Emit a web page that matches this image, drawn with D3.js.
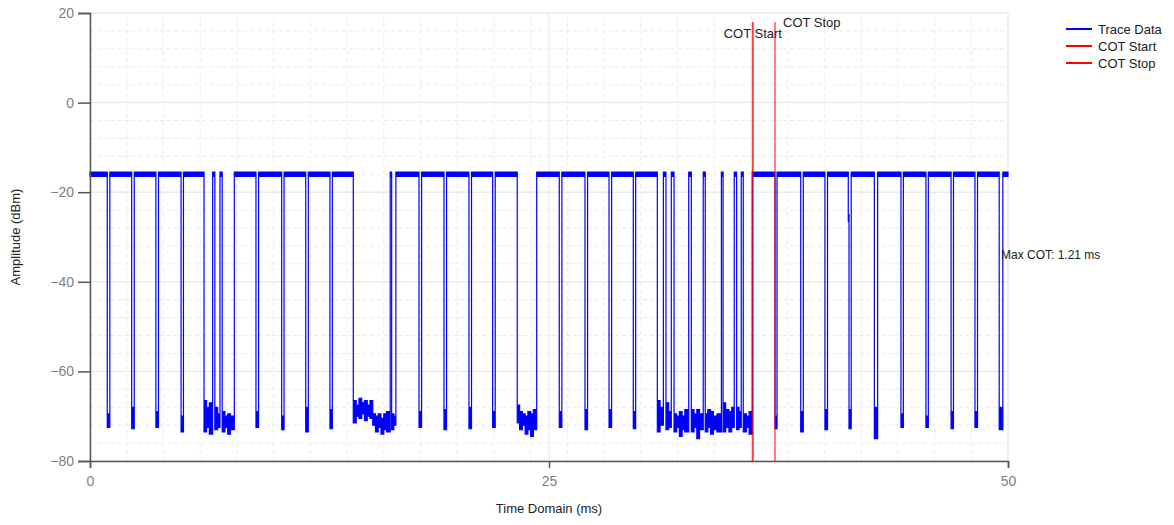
<!DOCTYPE html>
<html>
<head>
<meta charset="utf-8">
<script src="https://cdn.jsdelivr.net/npm/d3@7"></script>
<style>
  body { margin: 0; background: #fff; }
  text { font-family: "Liberation Sans", Arial, sans-serif; }
</style>
</head>
<body>
<div id="vis"></div>
<script>

// trace data, read off the picture as step segments
// each segment starts at segStart (ms) and runs until the next one
// segTop / segBottom are the noise envelope of the segment (dBm)
var segStart = [
  0.00, 0.94, 1.08, 2.27, 2.41, 3.59, 3.73, 4.96, 5.09,
  6.21, 6.35, 6.50, 6.68, 6.80, 6.95, 7.08, 7.20, 7.35, 7.50, 7.65, 7.86,
  9.04, 9.18, 10.44, 10.57, 11.75, 11.89, 13.07, 13.20,
  14.34, 14.50, 14.65, 14.80, 14.95, 15.10, 15.25, 15.40, 15.55, 15.70, 15.85, 16.00, 16.15, 16.35, 16.43, 16.55, 16.66,
  17.92, 18.06, 19.28, 19.42, 20.64, 20.78, 21.93, 22.07,
  23.27, 23.40, 23.55, 23.70, 23.85, 24.00, 24.15, 24.33,
  25.56, 25.70, 26.96, 27.10, 28.27, 28.41, 29.59, 29.72,
  30.90, 31.05, 31.23, 31.37, 31.52, 31.66, 31.81, 31.95, 32.10, 32.25, 32.40, 32.61,
  32.75, 32.90, 33.05, 33.20, 33.40, 33.51, 33.65, 33.80, 33.95, 34.15, 34.39,
  34.48, 34.62, 34.80, 34.95, 35.09, 35.22, 35.35, 35.47, 35.58, 35.75, 35.90, 36.07,
  37.31, 37.42, 38.71, 38.85, 40.03, 40.17,
  41.30, 41.34, 41.46, 42.72, 42.90, 44.17, 44.30, 45.53, 45.66,
  46.90, 47.03, 48.20, 48.34, 49.52, 49.72, 50.00
];
var segTop = [
  -15.5, -69.5, -15.5, -68, -15.5, -69, -15.5, -70, -15.5,
  -66.5, -68, -67, -15.5, -68, -69.5, -15.5, -69, -70, -69.5, -70, -15.5,
  -69, -15.5, -70, -15.5, -68, -15.5, -68.5, -15.5,
  -66.5, -67.5, -66, -67, -66.5, -67.5, -66.5, -69.5, -70, -69.5, -70.5, -69.5, -69, -15.5, -69.5, -70, -15.5,
  -69, -15.5, -68.5, -15.5, -68, -15.5, -69, -15.5,
  -67.5, -69, -69.5, -70, -69, -69.5, -68.5, -15.5,
  -69, -15.5, -68.5, -15.5, -68.5, -15.5, -69, -15.5,
  -66.5, -68, -15.5, -67, -69, -15.5, -69.5, -70, -69, -70, -68.5, -15.5,
  -68.5, -69.5, -68.5, -69.5, -15.5, -69.5, -68.5, -69, -70, -69.5, -15.5,
  -67, -68.5, -69, -68, -15.5, -68, -69, -15.5, -69.5, -70, -69, -15.5,
  -70, -15.5, -69, -15.5, -68.5, -15.5,
  -25, -68.5, -15.5, -68, -15.5, -69.5, -15.5, -70, -15.5,
  -69, -15.5, -69, -15.5, -68, -15.5, -15.5
];
var segBottom = [
  -16.5, -72.5, -16.5, -72.8, -16.5, -72.5, -16.5, -73.5, -16.5,
  -73.5, -72.5, -74, -16.5, -73, -72.5, -16.5, -73.5, -72.5, -74, -73, -16.5,
  -72.5, -16.5, -73, -16.5, -73.5, -16.5, -72.8, -16.5,
  -71.5, -70, -70.5, -69.5, -71, -70, -70.5, -72, -73.5, -72.5, -74, -73, -73.5, -16.5, -73, -72, -16.5,
  -72.5, -16.5, -73, -16.5, -72.8, -16.5, -72.5, -16.5,
  -71.5, -73, -72, -74, -73, -74.5, -73, -16.5,
  -72.5, -16.5, -73, -16.5, -72.5, -16.5, -72.8, -16.5,
  -73.5, -72, -16.5, -73, -72.5, -16.5, -73.5, -72.5, -74.5, -73, -73.5, -16.5,
  -73.5, -72.5, -75, -73, -16.5, -73.5, -72.5, -74, -73, -73.5, -16.5,
  -73.5, -72.5, -73.5, -72.5, -16.5, -73, -72.5, -16.5, -73.5, -72.5, -74, -16.5,
  -72.8, -16.5, -73.5, -16.5, -73, -16.5,
  -26.5, -72.8, -16.5, -75, -16.5, -72.5, -16.5, -72.5, -16.5,
  -72.8, -16.5, -72.5, -16.5, -73, -16.5, -16.5
];

// markers
var cotStart = 36.10;
var cotStop = 37.31;
var cotTop = 18;
var maxCotLevel = -34;
var maxCotLabel = 'Max COT: 1.21 ms';

// axes
var xTicks = [0, 25, 50];
var yTicks = [-80, -60, -40, -20, 0, 20];
var xMinor = d3.range(0, 51, 2);
var yMinor = d3.range(-80, 21, 4);

var legendNames = ['Trace Data', 'COT Start', 'COT Stop'];
var legendColors = ['#0000ff', '#ff0000', '#ff0000'];

function cotChart(selector) {

  var width = 1174;
  var height = 525;
  var margin = { left: 90, right: 166, top: 13, bottom: 64 };
  var plotW = width - margin.left - margin.right;
  var plotH = height - margin.top - margin.bottom;

  var svg = d3.select(selector)
    .append('svg')
    .attr('width', width)
    .attr('height', height);

  var x = d3.scaleLinear().domain([0, 50]).range([margin.left, margin.left + plotW]);
  var y = d3.scaleLinear().domain([-80, 20]).range([margin.top + plotH, margin.top]);

  // minor grid (dashed)
  svg.append('g').selectAll('line')
    .data(xMinor)
    .enter().append('line')
    .attr('x1', function(d) { return x(d); })
    .attr('x2', function(d) { return x(d); })
    .attr('y1', y(-80)).attr('y2', y(20))
    .attr('stroke', '#ececec')
    .attr('stroke-dasharray', '4,3');

  svg.append('g').selectAll('line')
    .data(yMinor)
    .enter().append('line')
    .attr('x1', x(0)).attr('x2', x(50))
    .attr('y1', function(d) { return y(d); })
    .attr('y2', function(d) { return y(d); })
    .attr('stroke', '#ececec')
    .attr('stroke-dasharray', '4,3');

  // major grid
  svg.append('g').selectAll('line')
    .data(xTicks)
    .enter().append('line')
    .attr('x1', function(d) { return x(d); })
    .attr('x2', function(d) { return x(d); })
    .attr('y1', y(-80)).attr('y2', y(20))
    .attr('stroke', '#e6e6e6');

  svg.append('g').selectAll('line')
    .data(yTicks)
    .enter().append('line')
    .attr('x1', x(0)).attr('x2', x(50))
    .attr('y1', function(d) { return y(d); })
    .attr('y2', function(d) { return y(d); })
    .attr('stroke', '#e6e6e6');

  // trace as a stepped noise envelope
  var points = segStart.map(function(t, i) {
    return { t: t, top: segTop[i], bottom: segBottom[i] };
  });

  var area = d3.area()
    .curve(d3.curveStepAfter)
    .x(function(d) { return x(d.t); })
    .y0(function(d) { return y(d.bottom); })
    .y1(function(d) { return y(d.top); });

  svg.append('path')
    .datum(points)
    .attr('d', area)
    .attr('fill', '#0000ff')
    .attr('stroke', '#0000ff')
    .attr('stroke-width', 1.2);

  // COT lines
  svg.append('line')
    .attr('x1', x(cotStart)).attr('x2', x(cotStart))
    .attr('y1', y(cotTop)).attr('y2', y(-80))
    .attr('stroke', '#ff0000')
    .attr('stroke-opacity', 0.75)
    .attr('stroke-width', 2);

  svg.append('line')
    .attr('x1', x(cotStop)).attr('x2', x(cotStop))
    .attr('y1', y(cotTop)).attr('y2', y(-80))
    .attr('stroke', '#ff0000')
    .attr('stroke-opacity', 0.5)
    .attr('stroke-width', 2);

  svg.append('text')
    .attr('x', x(cotStart))
    .attr('y', 38)
    .attr('text-anchor', 'middle')
    .attr('font-size', 13)
    .attr('fill', '#222')
    .text('COT Start');

  svg.append('text')
    .attr('x', x(cotStop) + 8)
    .attr('y', 27)
    .attr('font-size', 13)
    .attr('fill', '#222')
    .text('COT Stop');

  svg.append('text')
    .attr('x', x(50) - 7)
    .attr('y', y(maxCotLevel))
    .attr('dy', '0.35em')
    .attr('font-size', 12)
    .attr('fill', '#222')
    .text(maxCotLabel);

  // axes
  var xAxis = svg.append('g')
    .attr('transform', 'translate(0,' + y(-80) + ')')
    .call(d3.axisBottom(x).tickValues(xTicks).tickSize(7).tickPadding(8).tickFormat(d3.format('d')));

  var yAxis = svg.append('g')
    .attr('transform', 'translate(' + x(0) + ',0)')
    .call(d3.axisLeft(y).tickValues(yTicks).tickSize(12).tickPadding(4).tickFormat(d3.format('d')));

  [xAxis, yAxis].forEach(function(a) {
    a.select('.domain').attr('stroke', '#555').attr('stroke-width', 1.5);
    a.selectAll('.tick line').attr('stroke', '#555').attr('stroke-width', 1.5);
    a.selectAll('.tick text')
      .attr('fill', '#7f7f7f')
      .attr('font-size', 14)
      .attr('font-family', '"Liberation Sans", Arial, sans-serif');
  });

  // axis titles
  svg.append('text')
    .attr('x', x(25))
    .attr('y', 513)
    .attr('text-anchor', 'middle')
    .attr('font-size', 13)
    .attr('fill', '#222')
    .text('Time Domain (ms)');

  svg.append('text')
    .attr('transform', 'translate(20,' + y(-30) + ') rotate(-90)')
    .attr('text-anchor', 'middle')
    .attr('font-size', 13)
    .attr('fill', '#222')
    .text('Amplitude (dBm)');

  // legend
  var legend = svg.append('g')
    .selectAll('g')
    .data(legendNames)
    .enter().append('g')
    .attr('transform', function(d, i) { return 'translate(1066,' + (29 + i * 17) + ')'; });

  legend.append('line')
    .attr('x1', 0).attr('x2', 26)
    .attr('stroke', function(d, i) { return legendColors[i]; })
    .attr('stroke-width', 2);

  legend.append('text')
    .attr('x', 32)
    .attr('dy', '0.35em')
    .attr('font-size', 13)
    .attr('fill', '#222')
    .text(function(d) { return d; });
}

cotChart('#vis');

</script>
</body>
</html>
